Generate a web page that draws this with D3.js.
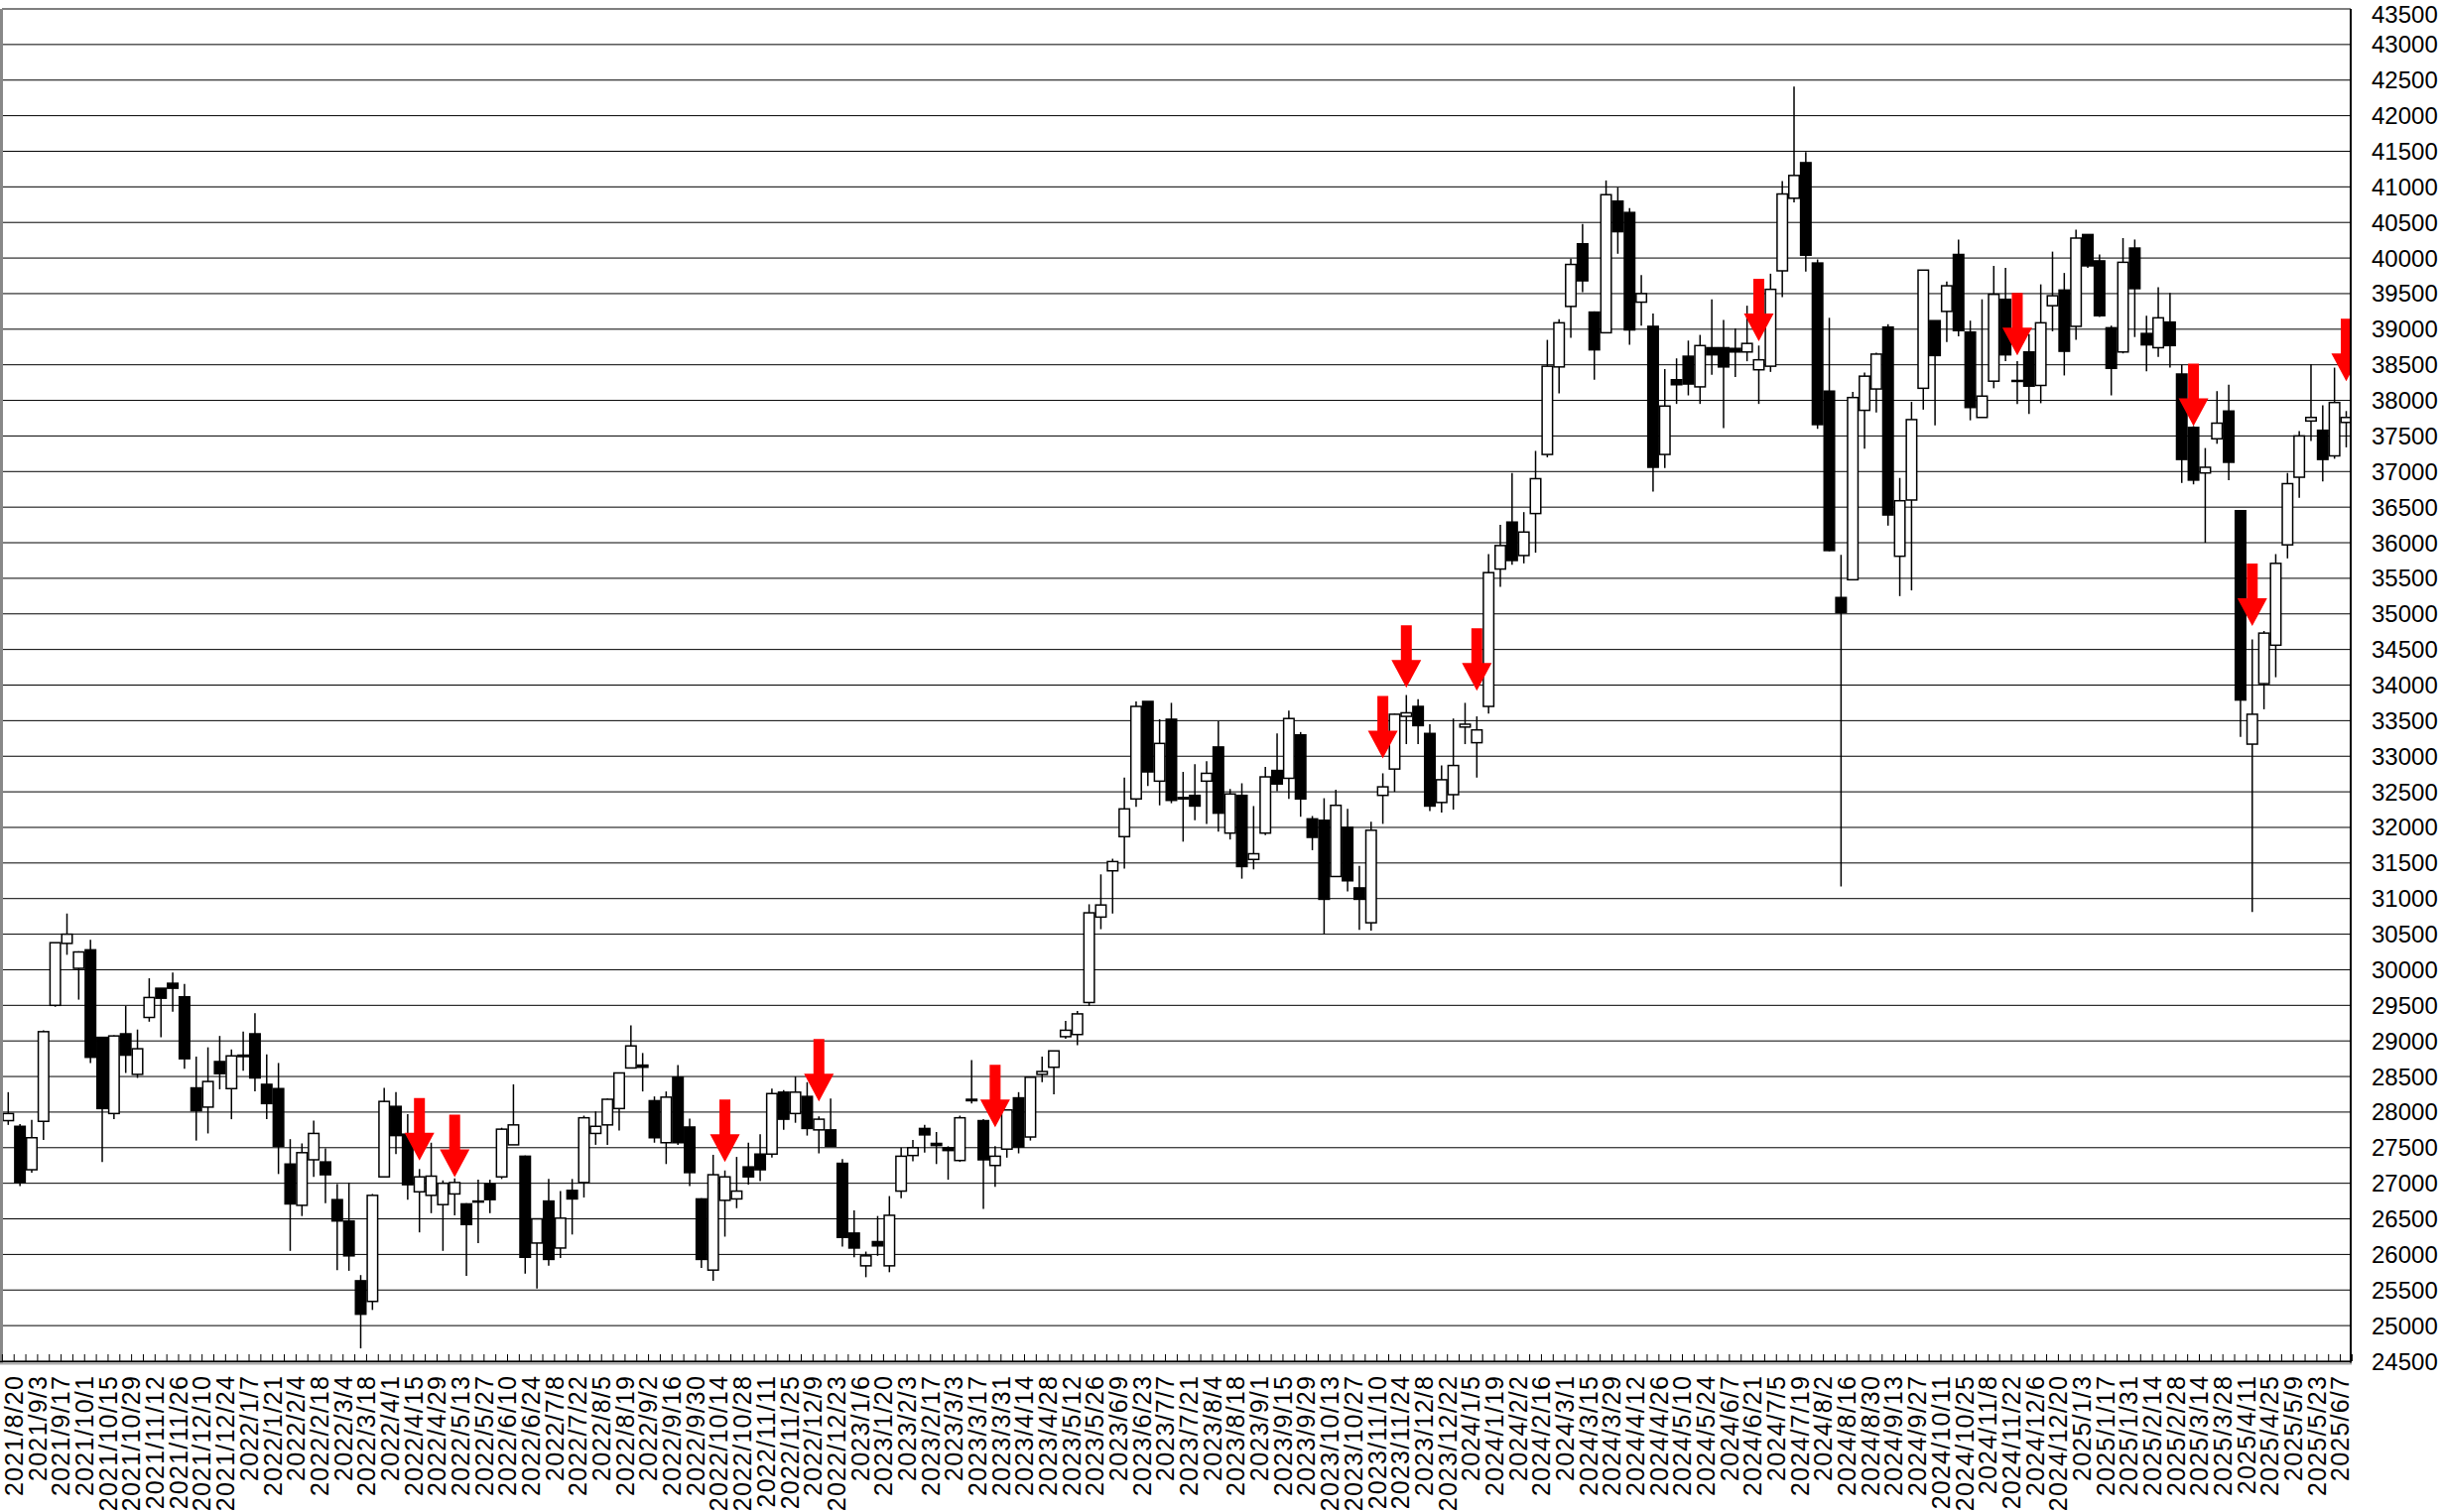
<!DOCTYPE html>
<html><head><meta charset="utf-8">
<script src="https://cdn.jsdelivr.net/npm/d3@7"></script>
<style>html,body{margin:0;padding:0;background:#fff;}svg{display:block;}</style>
</head><body>
<script>
// ---- data (weekly candles, index 0 = 2021/8/20) ----
const openP = [27880,27800,27190,27870,29500,30370,30020,30280,29050,27980,
29100,28530,29330,29740,29810,29620,28340,28070,28710,28330,
28780,29100,28390,28330,27270,26690,27330,27300,26770,26470,
25630,25340,27090,28080,27690,26880,26830,26700,26850,26710,
26750,26990,27090,27540,27380,26160,26750,26090,26900,27010,
27700,27820,28050,28620,28660,28160,27570,28490,27790,26780,
25780,26760,26780,27230,27410,27410,28280,27980,28220,27750,
27750,27280,26300,25840,26180,25840,26890,27390,27770,27560,
27500,27320,28180,27880,27250,27480,28200,27650,28530,28630,
29060,29090,29540,30740,31390,31870,32400,33770,32650,33520,
32420,32450,32650,33130,31920,32450,31550,31920,32800,32690,
33300,32120,32100,31310,32000,31150,30660,32450,32820,33560,
33700,33320,32350,32460,33410,33190,33700,35630,36290,35820,
36410,37240,38470,39320,40200,39240,38950,40800,40640,39380,
39040,37240,38290,38620,38190,38740,38740,38730,38680,38430,
38480,39820,40840,41340,39930,38130,35230,35480,37860,38160,
39030,35810,36600,38170,39120,39250,40050,38960,37760,38270,
39420,38280,38680,38210,39330,39550,39040,40330,39960,39020,
38680,40140,38940,38740,39100,38370,37620,36980,37460,37850,
36450,33170,34020,34560,35970,36920,37710,37580,37220,37690];
const highP = [28280,27830,27890,29150,30380,30790,30260,30420,29050,29080,
29490,29160,29880,29740,29960,29800,28780,28910,29070,28880,
29130,29390,28810,28690,27620,27560,27880,27490,26990,27010,
25710,26850,28340,28280,27970,27200,27570,27040,27070,26720,
27050,27050,27780,28390,27390,26500,27060,26890,27060,27950,
28010,28190,28550,29220,28830,28220,28290,28660,27910,26790,
27400,27180,27370,27570,27690,28330,28310,28500,28420,27940,
28190,27340,26620,26040,26540,26820,27500,27610,27820,27720,
27520,27950,28730,27900,27520,28030,28280,28490,28780,28860,
29280,29420,30920,31340,31560,32700,33770,33770,33520,33750,
32780,32890,32930,33490,32540,32620,32300,32850,33320,33640,
33340,32160,32410,32530,32260,31460,32080,32760,33600,33860,
33800,33450,32870,33530,33750,33560,35840,36250,36980,36430,
37290,38850,39140,39990,40480,39250,41090,40990,40700,39760,
39220,38440,38590,38840,38920,39420,39130,39010,39330,38770,
39780,41080,42410,41490,39980,39160,35830,38120,38390,38670,
39070,36910,37980,39830,39120,39670,40260,39120,39420,39890,
39860,38550,38930,39630,40090,39790,40400,40330,40050,39050,
40280,40260,39190,39590,39510,38500,37640,37330,38130,38220,
36450,34640,34760,35840,36980,37570,38510,37930,38460,37850];
const lowP = [27820,26960,27150,27610,29480,30210,29580,28690,27300,27900,
28550,28480,29270,29050,29410,28610,27600,27700,28320,27900,
28580,28290,27900,27130,26050,26540,27090,26720,25780,25770,
24680,25220,27090,27410,26770,26310,26580,26050,26550,25700,
26160,26580,27060,27540,25730,25520,25840,25950,26280,26800,
27540,27540,27740,28620,28290,27570,27270,27540,26960,25810,
25630,26250,26650,26980,27030,27360,27750,27850,27670,27420,
27510,26110,25960,25680,25980,25750,26790,27310,27430,27270,
27050,27300,28120,26640,26950,27360,27420,27600,28420,28250,
29030,28940,29490,30570,30790,31420,32290,32580,32310,32340,
31800,32100,32050,31940,31830,31280,31410,31890,32510,32400,
32150,31680,30500,31310,31100,30560,30550,32050,32500,33170,
33170,32230,32210,32250,33170,32700,33600,35380,35690,35710,
35860,37200,38100,38880,39520,38290,38950,40060,38780,39050,
36720,37050,37950,38070,37950,38360,37610,38330,38550,37950,
38400,39450,40780,39810,37600,35880,31170,35480,37320,37830,
36240,35250,35330,37870,37650,38820,38900,37720,37760,38170,
38550,37950,37810,37960,38970,38350,38850,39860,39170,38070,
38660,38890,38410,38610,38460,36840,36820,36000,37390,36880,
33270,30810,33660,34110,35780,36630,37430,36860,37180,37340];
const closeP = [27980,27010,27640,29130,30380,30500,30250,28770,28050,29070,
28800,28890,29610,29600,29740,28750,28020,28430,28540,28790,
28800,28480,28120,27520,26710,27430,27700,27120,26470,25980,
25160,26830,28150,27670,26980,27090,27100,27000,27010,26420,
26740,26770,27760,27820,25960,26500,25930,26510,26780,27920,
27800,28180,28550,28930,28630,27640,28210,27570,27150,25930,
27120,27090,26890,27090,27190,28260,27900,28280,27770,27900,
27520,26240,26090,25980,26120,26550,27380,27500,27680,27530,
27460,27920,28160,27330,27380,28030,27510,28490,28570,28860,
29150,29380,30800,30910,31520,32260,33700,32780,33180,32380,
32400,32300,32760,32200,32470,31450,31630,32710,32610,33530,
32400,31860,30990,32310,31250,30990,31960,32570,33590,33610,
33430,32300,32670,32870,33450,33370,35580,35960,35750,36150,
36900,38480,39090,39910,39680,38710,40890,40370,38990,39500,
37060,37920,38220,38230,38770,38640,38470,38680,38800,38570,
39560,40900,41160,40040,37660,35890,35020,38040,38340,38650,
36390,36590,37730,39830,38630,39610,38980,37900,38060,39490,
38640,38270,38200,39090,39470,38690,40280,39890,39190,38450,
39940,39570,38780,39160,38770,37170,36880,37060,37680,37130,
33790,33590,34730,35710,36830,37500,37760,37170,37970,37760];
// signal arrows: candle index and arrow-tip price
const arrowIdx = [35,38,61,69,84,117,119,125,149,171,186,191,199];
const arrowTip = [27320,27085,27300,28150,27785,32970,33960,33920,38830,38630,37640,34830,38270];
// price axis tick labels
const yTicks = [24500,25000,25500,26000,26500,27000,27500,28000,28500,29000,29500,30000,30500,31000,31500,32000,32500,33000,33500,34000,34500,35000,35500,36000,36500,37000,37500,38000,38500,39000,39500,40000,40500,41000,41500,42000,42500,43000,43500];
// date tick labels (every second week)
const dateLabels = ["2021/8/20","2021/9/3","2021/9/17","2021/10/1","2021/10/15","2021/10/29","2021/11/12","2021/11/26","2021/12/10","2021/12/24",
"2022/1/7","2022/1/21","2022/2/4","2022/2/18","2022/3/4","2022/3/18","2022/4/1","2022/4/15","2022/4/29","2022/5/13","2022/5/27","2022/6/10","2022/6/24","2022/7/8","2022/7/22","2022/8/5","2022/8/19","2022/9/2","2022/9/16","2022/9/30","2022/10/14","2022/10/28","2022/11/11","2022/11/25","2022/12/9","2022/12/23",
"2023/1/6","2023/1/20","2023/2/3","2023/2/17","2023/3/3","2023/3/17","2023/3/31","2023/4/14","2023/4/28","2023/5/12","2023/5/26","2023/6/9","2023/6/23","2023/7/7","2023/7/21","2023/8/4","2023/8/18","2023/9/1","2023/9/15","2023/9/29","2023/10/13","2023/10/27","2023/11/10","2023/11/24","2023/12/8","2023/12/22",
"2024/1/5","2024/1/19","2024/2/2","2024/2/16","2024/3/1","2024/3/15","2024/3/29","2024/4/12","2024/4/26","2024/5/10","2024/5/24","2024/6/7","2024/6/21","2024/7/5","2024/7/19","2024/8/2","2024/8/16","2024/8/30","2024/9/13","2024/9/27","2024/10/11","2024/10/25","2024/11/8","2024/11/22","2024/12/6","2024/12/20",
"2025/1/3","2025/1/17","2025/1/31","2025/2/14","2025/2/28","2025/3/14","2025/3/28","2025/4/11","2025/4/25","2025/5/9","2025/5/23","2025/6/7"];

// ---- layout ----
const W = 2460, H = 1524;
const plotL = 2, plotR = 2369, plotT = 9, plotB = 1372;
const N = openP.length;
const candles = openP.map((o,i)=>({i, o, h:highP[i], l:lowP[i], c:closeP[i]}));

const x = d3.scaleLinear().domain([0, 199]).range([8.3, 2364.5]);
const y = d3.scaleLinear().domain([24500, 43500]).range([plotB, plotT]);
const step = x(1) - x(0);
const FONT = "'Liberation Sans', Arial, sans-serif";

const svg = d3.select('body').append('svg').attr('width', W).attr('height', H);
svg.append('rect').attr('width', W).attr('height', H).attr('fill', '#fff');

// grid
svg.append('g').selectAll('line').data(yTicks).join('line')
  .attr('x1', plotL).attr('x2', plotR)
  .attr('y1', d => y(d)).attr('y2', d => y(d))
  .attr('stroke', '#000').attr('stroke-width', 1);

// price labels
svg.append('g').selectAll('text').data(yTicks).join('text')
  .attr('x', 2390).attr('y', d => Math.max(y(d), 14))
  .attr('dominant-baseline', 'central')
  .attr('font-family', FONT).attr('font-size', 24).attr('fill', '#000')
  .text(d => d);

svg.append('clipPath').attr('id', 'pc').append('rect')
  .attr('x', plotL).attr('y', 0).attr('width', plotR - plotL).attr('height', plotB);

const cg = svg.append('g').attr('clip-path', 'url(#pc)');
// wicks
cg.append('g').selectAll('line').data(candles).join('line')
  .attr('x1', d => x(d.i)).attr('x2', d => x(d.i))
  .attr('y1', d => y(d.h)).attr('y2', d => y(d.l))
  .attr('stroke', '#000').attr('stroke-width', 1.5);
// bodies
const bw = 10.5;
cg.append('g').selectAll('rect').data(candles).join('rect')
  .attr('x', d => x(d.i) - bw/2)
  .attr('y', d => y(Math.max(d.o, d.c)))
  .attr('width', bw)
  .attr('height', d => Math.max(1, Math.abs(y(d.o) - y(d.c))))
  .attr('fill', d => d.c >= d.o ? '#fff' : '#000')
  .attr('stroke', '#000').attr('stroke-width', 1.5);

// arrows
const arrows = arrowIdx.map((idx, k) => ({idx, tip: arrowTip[k]}));
cg.append('g').selectAll('path').data(arrows).join('path')
  .attr('d', d => {
    const cx = x(d.idx), ty = y(d.tip);
    const len = 63, hh = 28, hw = 15, sw = 5.5;
    return `M${cx},${ty} L${cx-hw},${ty-hh} L${cx-sw},${ty-hh} L${cx-sw},${ty-len} L${cx+sw},${ty-len} L${cx+sw},${ty-hh} L${cx+hw},${ty-hh} Z`;
  })
  .attr('fill', '#ff0000');

// frame
svg.append('line').attr('x1', 1.5).attr('x2', 1.5).attr('y1', plotT).attr('y2', plotB + 2)
  .attr('stroke', '#888').attr('stroke-width', 3);
svg.append('line').attr('x1', plotR).attr('x2', plotR).attr('y1', plotT).attr('y2', plotB + 2)
  .attr('stroke', '#000').attr('stroke-width', 2);
svg.append('line').attr('x1', 0).attr('x2', plotR + 1).attr('y1', plotB + 0.5).attr('y2', plotB + 0.5)
  .attr('stroke', '#000').attr('stroke-width', 1.5);
svg.append('line').attr('x1', 0).attr('x2', plotR + 1).attr('y1', plotB + 2.5).attr('y2', plotB + 2.5)
  .attr('stroke', '#aaa').attr('stroke-width', 2);

// week ticks
svg.append('g').selectAll('line').data(d3.range(N + 1)).join('line')
  .attr('x1', d => x(d) - step/2).attr('x2', d => x(d) - step/2)
  .attr('y1', plotB - 7).attr('y2', plotB)
  .attr('stroke', '#000').attr('stroke-width', 1);

// date labels
svg.append('g').selectAll('text').data(dateLabels).join('text')
  .attr('transform', (d, k) => `translate(${x(2*k) + 6},1386) rotate(-90)`)
  .attr('text-anchor', 'end').attr('dy', '0.35em')
  .attr('font-family', FONT).attr('font-size', 25).attr('letter-spacing', 1.2)
  .attr('fill', '#000')
  .text(d => d);
</script>
</body></html>
